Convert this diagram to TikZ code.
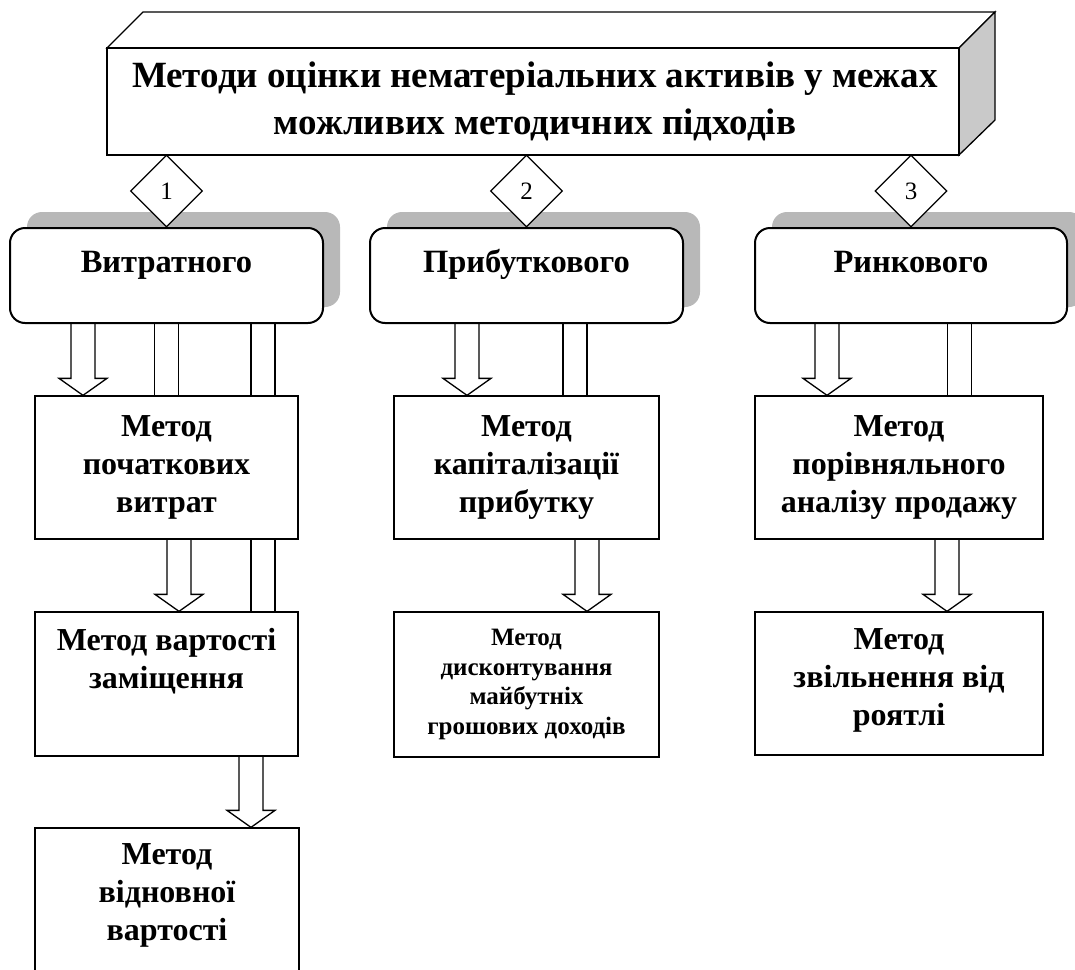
\documentclass[tikz,border=0pt]{standalone}
\usepackage{fontspec}
\setmainfont{Liberation Serif}
\usetikzlibrary{shapes.geometric,calc}
\definecolor{shadowc}{gray}{0.72}
\definecolor{sidec}{gray}{0.79}
\newcommand\blockarrow[3]{%
  \draw[arrowline] let \p1=(#2.south), \p2=(#3.north) in
    ({(#1-12)*1pt},\y1) -- ({(#1-12)*1pt},\y2+17pt) -- ({(#1-24)*1pt},\y2+17pt)
    -- ({#1*1pt},\y2) -- ({(#1+24)*1pt},\y2+17pt) -- ({(#1+12)*1pt},\y2+17pt)
    -- ({(#1+12)*1pt},\y1);}
\newcommand\twolines[3]{%
  \draw[arrowline] let \p1=(#2.south), \p2=(#3.north) in
    ({(#1-12)*1pt},\y1) -- ({(#1-12)*1pt},\y2)
    ({(#1+12)*1pt},\y1) -- ({(#1+12)*1pt},\y2);}
\begin{document}
\begin{tikzpicture}[x=1pt,y=-1pt,
  box/.style={draw,line width=1.3pt,fill=white,inner sep=0pt,align=center,
    font=\bfseries\fontsize{32}{38}\selectfont},
  smallbox/.style={box,font=\bfseries\fontsize{25}{29.5}\selectfont},
  rbox/.style={draw,line width=2pt,fill=white,rounded corners=15pt,inner sep=0pt},
  shadowbox/.style={fill=shadowc,rounded corners=15pt},
  headtxt/.style={font=\bfseries\fontsize{32.5}{38}\selectfont,inner sep=0pt,anchor=base},
  bodytxt/.style={font=\bfseries\fontsize{32}{38}\selectfont,align=center,inner sep=0pt},
  titletxt/.style={font=\bfseries\fontsize{37}{47}\selectfont,align=center,inner sep=0pt},
  dia/.style={draw,line width=1.3pt,fill=white,diamond,inner sep=0pt,
    minimum width=72pt,minimum height=72pt,font=\fontsize{25}{30}\selectfont},
  arrowline/.style={line width=1.3pt,line join=miter}]
\useasboundingbox (0,0) rectangle (1075,969);
% 3D title block
\draw[line width=1.3pt,fill=white] (107,48) -- (143,12) -- (995,12) -- (959,48) -- cycle;
\draw[line width=1.3pt,fill=sidec] (959,48) -- (995,12) -- (995,120) -- (959,155) -- cycle;
\node[draw,line width=1.3pt,fill=white,minimum width=852pt,minimum height=107pt,inner sep=0pt]
  (top) at (533,101.5) {};
\node[titletxt] (toptxt) at (535,101) {Методи оцінки нематеріальних активів у межах\\можливих методичних підходів};
% shadows of the approach boxes
\fill[shadowbox] (27,212) rectangle (340,307);
\fill[shadowbox] (387,212) rectangle (700,307);
\fill[shadowbox] (772,212) rectangle (1084,307);
% rounded approach boxes
\node[rbox,minimum width=313pt,minimum height=95pt] (r1) at (166.5,275.5) {};
\node[rbox,minimum width=313pt,minimum height=95pt] (r2) at (526.5,275.5) {};
\node[rbox,minimum width=312pt,minimum height=95pt] (r3) at (911,275.5) {};
\node[headtxt] (t1) at (166.5,272) {Витратного};
\node[headtxt] (t2) at (526.5,272) {Прибуткового};
\node[headtxt] (t3) at (911,272) {Ринкового};
% diamonds
\node[dia] (d1) at (166.5,191) {1};
\node[dia] (d2) at (526.5,191) {2};
\node[dia] (d3) at (911,191) {3};
% method boxes
\node[box,minimum width=263pt,minimum height=143pt] (m1) at (166.5,467.5) {Метод\\початкових\\витрат};
\node[box,minimum width=263pt,minimum height=144pt] (m2) at (166.5,684) {};
\node[bodytxt] (m2t) at (166.5,661) {Метод вартості\\заміщення};
\node[box,minimum width=264pt,minimum height=160pt] (m3) at (167,908) {};
\node[bodytxt] (m3t) at (167,895) {Метод\\відновної\\вартості};
\node[box,minimum width=265pt,minimum height=143pt] (p1) at (526.5,467.5) {Метод\\капіталізації\\прибутку};
\node[smallbox,minimum width=265pt,minimum height=145pt] (p2) at (526.5,684.5) {Метод\\дисконтування\\майбутніх\\грошових доходів};
\node[box,minimum width=288pt,minimum height=143pt] (k1) at (899,467.5) {Метод\\порівняльного\\аналізу продажу};
\node[box,minimum width=288pt,minimum height=143pt] (k2) at (899,683.5) {};
\node[bodytxt] (k2t) at (899,680) {Метод\\звільнення від\\роятлі};
% connectors
\blockarrow{83}{r1}{m1}
\twolines{166.5}{r1}{m1}
\twolines{263}{r1}{m1}
\twolines{263}{m1}{m2}
\blockarrow{179}{m1}{m2}
\blockarrow{251}{m2}{m3}
\blockarrow{467}{r2}{p1}
\twolines{575}{r2}{p1}
\blockarrow{587}{p1}{p2}
\blockarrow{827}{r3}{k1}
\twolines{959.5}{r3}{k1}
\blockarrow{947}{k1}{k2}
\end{tikzpicture}
\end{document}
